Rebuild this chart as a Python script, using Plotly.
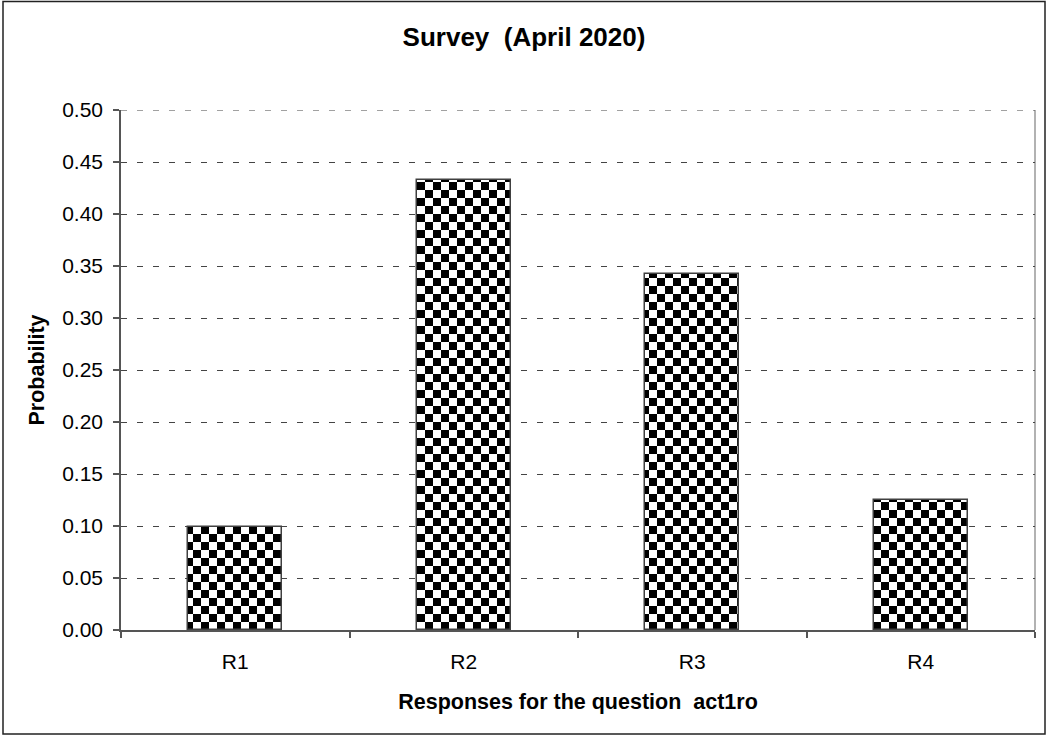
import plotly.graph_objects as go

# Survey response probabilities
categories = ["R1", "R2", "R3", "R4"]
probabilities = [0.099, 0.433, 0.342, 0.125]
y_ticks = [0.00, 0.05, 0.10, 0.15, 0.20, 0.25, 0.30, 0.35, 0.40, 0.45, 0.50]

W, H = 1048, 736
M_L, M_R, M_T, M_B = 121, 13, 110, 106
PLOT_W = W - M_L - M_R
PLOT_H = H - M_T - M_B

FONT = "Liberation Sans, Arial, sans-serif"
AXIS_COLOR = "#555555"
GRID_COLOR = "#444444"
GRID_DASH = "6px,10px"

# black/white checkerboard tile for the bars
CELL = 8
checker_path = (
    f"M0,0H{CELL}V{CELL}H0Z "
    f"M{CELL},{CELL}H{2 * CELL}V{2 * CELL}H{CELL}Z"
)
try:
    pattern = go.bar.marker.Pattern(
        path=checker_path, size=2 * CELL, solidity=1,
        fgcolor="black", bgcolor="white", fgopacity=1, fillmode="replace",
    )
except ValueError:
    pattern = go.bar.marker.Pattern(
        shape="+", size=2 * CELL, solidity=0.5,
        fgcolor="black", bgcolor="white", fgopacity=1, fillmode="replace",
    )

fig = go.Figure(
    go.Bar(
        x=categories,
        y=probabilities,
        width=0.41,
        marker=dict(
            color="white",
            pattern=pattern,
            line=dict(color="#404040", width=1.5),
        ),
        hoverinfo="x+y",
    )
)

# outer chart frame and plot-area right edge, in paper units
def px_to_paper_x(px):
    return (px - M_L) / PLOT_W

def px_to_paper_y(py):
    return 1 - (py - M_T) / PLOT_H

fig.add_shape(
    type="rect", xref="paper", yref="paper",
    x0=px_to_paper_x(3), x1=px_to_paper_x(1045),
    y0=px_to_paper_y(734), y1=px_to_paper_y(1.5),
    line=dict(color="#222222", width=1.5), layer="below",
)
fig.add_shape(
    type="line", xref="paper", yref="paper",
    x0=1, x1=1, y0=0, y1=1,
    line=dict(color="#999999", width=1.5), layer="below",
)
# gridline along the top of the value range
fig.add_shape(
    type="line", xref="paper", yref="y",
    x0=0, x1=1, y0=y_ticks[-1], y1=y_ticks[-1],
    line=dict(color=GRID_COLOR, width=1, dash=GRID_DASH), layer="below",
)

fig.update_layout(
    width=W, height=H,
    margin=dict(l=M_L, r=M_R, t=M_T, b=M_B, pad=0),
    paper_bgcolor="white", plot_bgcolor="white",
    font=dict(family=FONT, color="black", size=21),
    showlegend=False,
    bargap=0,
    title=dict(
        text="<b>Survey  (April 2020)</b>",
        font=dict(family=FONT, size=26, color="black"),
        xref="container", x=0.5, xanchor="center",
        yref="container", y=1 - 37 / H, yanchor="middle",
    ),
    xaxis=dict(
        type="category",
        showgrid=False,
        showline=True, linecolor=AXIS_COLOR, linewidth=1.5,
        ticks="outside", ticklen=6, tickcolor=AXIS_COLOR, tickwidth=1.5,
        tickson="boundaries",
        tickfont=dict(size=21),
        ticklabelstandoff=12,
        title=dict(
            text="<b>Responses for the question  act1ro</b>",
            font=dict(size=21.5), standoff=22,
        ),
        fixedrange=True,
    ),
    yaxis=dict(
        range=[0, 0.5],
        tickvals=y_ticks,
        tickformat=".2f",
        showgrid=True, gridcolor=GRID_COLOR, gridwidth=1, griddash=GRID_DASH,
        zeroline=False,
        showline=True, linecolor=AXIS_COLOR, linewidth=1.5,
        ticks="outside", ticklen=6, tickcolor=AXIS_COLOR, tickwidth=1.5,
        tickfont=dict(size=21),
        ticklabelstandoff=6,
        title=dict(text="<b>Probability</b>", font=dict(size=21.5), standoff=12),
        fixedrange=True,
    ),
)

fig.write_html("out.html")
